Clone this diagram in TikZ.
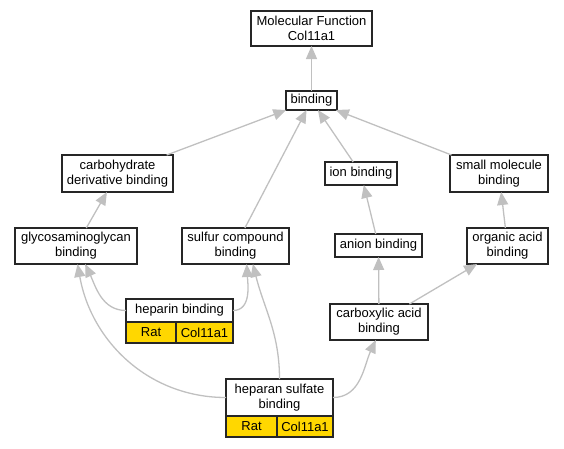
\documentclass[tikz,border=0pt]{standalone}
\usepackage{fontspec}
\setmainfont{Liberation Sans}
\usetikzlibrary{positioning,arrows.meta}
\definecolor{gold}{RGB}{255,215,0}
\definecolor{edgegray}{RGB}{192,192,192}

\begin{document}
\begin{tikzpicture}[x=1pt, y=1pt,
		main/.style = {draw=black!85, line width=1.5pt, fill=white, align=center, inner sep=2pt, outer sep=0pt, font=\fontsize{13}{15}\selectfont},
		gene/.style = {main, fill=gold, minimum height=21pt},
		arr/.style = {color=edgegray, line width=1.3pt, -{Triangle[length=13pt,width=11pt]}}]
		\useasboundingbox (0,0) rectangle (564,-448);
		%Top of graph
		\node[main, minimum width=121pt, minimum height=35pt] (1) at (311.5,-28.5) {Molecular Function\\Col11a1};
		\node[main, minimum width=51pt, minimum height=19pt] (2) [node distance=72pt, below of=1] {binding};
		%Second row
		\node[main, minimum width=111pt, minimum height=37pt] (3) at (117.5,-173.5) {carbohydrate\\derivative binding};
		\node[main, minimum width=72pt, minimum height=23pt] (4) at (361,-173.5) {ion binding};
		\node[main, minimum width=98pt, minimum height=37pt] (5) at (499,-173.5) {small molecule\\binding};
		%Third row
		\node[main, minimum width=122pt, minimum height=36pt] (6) at (76,-246) {glycosaminoglycan\\binding};
		\node[main, minimum width=107pt, minimum height=36pt] (7) at (235.5,-246) {sulfur compound\\binding};
		\node[main, minimum width=87pt, minimum height=23pt] (8) at (378.5,-245.5) {anion binding};
		\node[main, minimum width=81pt, minimum height=36pt] (9) at (507.5,-246) {organic acid\\binding};
		\node[main, minimum width=98pt, minimum height=36pt] (10) at (379,-322) {carboxylic acid\\binding};
		%Annotated terms with gene cells
		\node[main, minimum width=107pt, minimum height=23pt] (11) at (179.5,-310.5) {heparin binding};
		\node[gene, minimum width=50pt, anchor=north west] (12) at (11.south west) {Rat};
		\node[gene, minimum width=57pt] (13) [right=0pt of 12] {Col11a1};
		\node[main, minimum width=107pt, minimum height=37pt] (14) at (279.5,-397.5) {heparan sulfate\\binding};
		\node[gene, minimum width=51pt, anchor=north west] (15) at (14.south west) {Rat};
		\node[gene, minimum width=56pt] (16) [right=0pt of 15] {Col11a1};

		%Edges child -> parent
		\path (2) edge[arr] (1); 	%binding -> MF
		\path (3) edge[arr] (2); 	%carbohydrate -> binding
		\path (7) edge[arr] (2); 	%sulfur -> binding
		\path (4) edge[arr] (2); 	%ion -> binding
		\path (5) edge[arr] (2); 	%small molecule -> binding
		\path (6) edge[arr] (3); 	%glycosaminoglycan -> carbohydrate
		\path (8) edge[arr] (4); 	%anion -> ion
		\path (9) edge[arr] (5); 	%organic acid -> small molecule
		\path (10) edge[arr] (8); 	%carboxylic -> anion
		\path (10) edge[arr] (9); 	%carboxylic -> organic acid

		%Curved edges from annotated terms
		\path (11) edge[arr, out=180, in=-65] (6.-63); 	%heparin -> glycosaminoglycan
		\path (11) edge[arr, out=0, in=-87] (7.-58); 	%heparin -> sulfur
		\path (14) edge[arr, out=180, in=-80] (6.-85); 	%heparan -> glycosaminoglycan
		\path (14) edge[arr, out=90, in=-76] (7.-46); 	%heparan -> sulfur
		\path (14) edge[arr, out=0, in=-115] (10.-100); 	%heparan -> carboxylic
	\end{tikzpicture}
\end{document}
